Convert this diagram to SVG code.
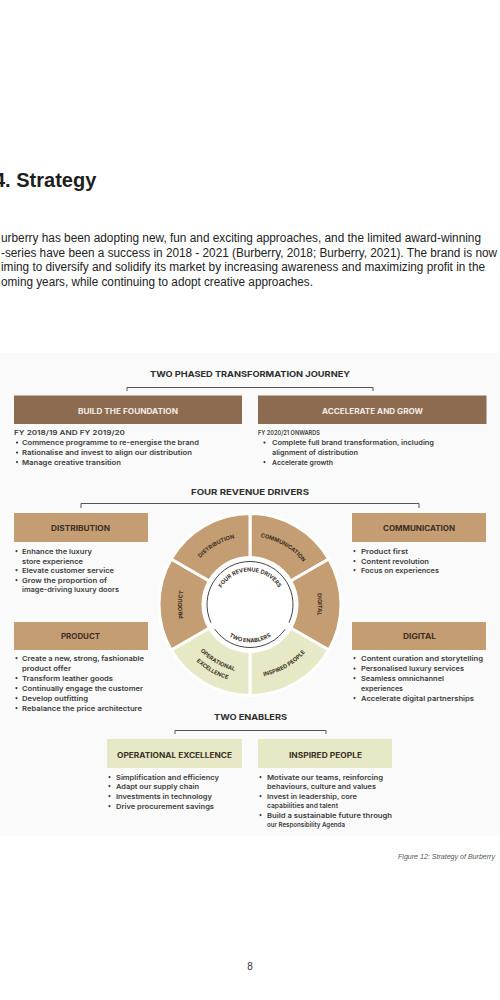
<svg xmlns="http://www.w3.org/2000/svg" width="500" height="1000" viewBox="0 0 500 1000">
<style>
.h{font-family:"Liberation Sans",Arial,sans-serif;font-weight:bold;font-size:20px;fill:#1e1e1e}
.p{font-family:"Liberation Sans",Arial,sans-serif;font-size:12px;fill:#222}
.t{font-family:Inter,"DejaVu Sans",sans-serif;font-weight:700;font-size:8px;fill:#2e2e2e;text-anchor:middle}
.bl{font-family:Inter,"DejaVu Sans",sans-serif;font-weight:700;font-size:7px;fill:#f4ede6;text-anchor:middle}
.bd{font-family:Inter,"DejaVu Sans",sans-serif;font-weight:700;font-size:7px;fill:#3a2e24;text-anchor:middle}
.b{font-family:Inter,"DejaVu Sans",sans-serif;font-weight:600;font-size:6.8px;fill:#3c3c3c}
.w{font-family:Inter,"DejaVu Sans",sans-serif;font-weight:700;font-size:5.6px;fill:#3a2e24;text-anchor:middle}
.cap{font-family:"Liberation Sans",Arial,sans-serif;font-style:italic;font-size:7.5px;fill:#555}
.dark{fill:#8c6b50}
.tan{fill:#c49d72}
.grn{fill:#e7e9c6}
.seg{stroke:#fff;stroke-width:3}
.br{fill:none;stroke:#555;stroke-width:1}
.dot{fill:#3c3c3c}
</style>
<defs>
<path id="topArc" d="M 182 604.5 A 68 68 0 0 1 318 604.5"/>
<path id="leftArc" d="M 216 663.39 A 68 68 0 0 1 216 545.61"/>
<path id="rightArc" d="M 284 545.61 A 68 68 0 0 1 284 663.39"/>
<path id="botArcA" d="M 182 604.5 A 68 68 0 0 0 318 604.5"/>
<path id="botArcB" d="M 172 604.5 A 78 78 0 0 0 328 604.5"/>
<path id="botArcC" d="M 177 604.5 A 73 73 0 0 0 323 604.5"/>
<path id="innerTop" d="M 217 604.5 A 33 33 0 0 1 283 604.5"/>
<path id="innerBot" d="M 212 604.5 A 38 38 0 0 0 288 604.5"/>
</defs>
<rect x="0" y="0" width="500" height="1000" fill="#fff"/>
<rect x="0" y="353" width="500" height="483" fill="#fafafa"/>

<g id="page-text">
<text class="h" x="-6" y="187">4. Strategy</text>
<text class="p" x="1" y="242" textLength="480" lengthAdjust="spacingAndGlyphs">urberry has been adopting new, fun and exciting approaches, and the limited award-winning</text>
<text class="p" x="1" y="256.5" textLength="496" lengthAdjust="spacingAndGlyphs">-series have been a success in 2018 - 2021 (Burberry, 2018; Burberry, 2021). The brand is now</text>
<text class="p" x="1" y="271" textLength="484" lengthAdjust="spacingAndGlyphs">iming to diversify and solidify its market by increasing awareness and maximizing profit in the</text>
<text class="p" x="1" y="285.5" textLength="312" lengthAdjust="spacingAndGlyphs">oming years, while continuing to adopt creative approaches.</text>
<text class="cap" x="398" y="858.5" textLength="97" lengthAdjust="spacingAndGlyphs">Figure 12: Strategy of Burberry</text>
<text x="250" y="970" font-family="Liberation Sans, Arial, sans-serif" font-size="10" fill="#333" text-anchor="middle">8</text>
</g>

<g id="connectors">
<path class="br" d="M 127 391 V 387.5 H 373 V 391"/>
<path class="br" d="M 81 508 V 503.5 H 419 V 508"/>
<path class="br" d="M 175 734 V 730.5 H 326 V 734"/>
</g>

<g id="titles">
<text class="t" x="250" y="376.5" textLength="200" lengthAdjust="spacingAndGlyphs">TWO PHASED TRANSFORMATION JOURNEY</text>
<text class="t" x="250" y="494.5" textLength="118" lengthAdjust="spacingAndGlyphs">FOUR REVENUE DRIVERS</text>
<text class="t" x="250.5" y="720" textLength="73" lengthAdjust="spacingAndGlyphs">TWO ENABLERS</text>
</g>

<g id="build-foundation">
<rect class="dark" x="14" y="395.5" width="228" height="28.5"/>
<text class="bl" x="128" y="413.5" textLength="100" lengthAdjust="spacingAndGlyphs">BUILD THE FOUNDATION</text>
<text class="b" x="14" y="435" textLength="111" lengthAdjust="spacingAndGlyphs">FY 2018/19 AND FY 2019/20</text>
<circle class="dot" cx="17" cy="442.6" r="1.1"/>
<circle class="dot" cx="17" cy="452.6" r="1.1"/>
<circle class="dot" cx="17" cy="462.1" r="1.1"/>
<text class="b" x="22" y="445" textLength="177" lengthAdjust="spacingAndGlyphs">Commence programme to re-energise the brand</text>
<text class="b" x="22" y="455" textLength="170" lengthAdjust="spacingAndGlyphs">Rationalise and invest to align our distribution</text>
<text class="b" x="22" y="464.5" textLength="99" lengthAdjust="spacingAndGlyphs">Manage creative transition</text>
</g>

<g id="accelerate-grow">
<rect class="dark" x="258" y="395.5" width="228.5" height="28.5"/>
<text class="bl" x="372.5" y="413.5" textLength="101" lengthAdjust="spacingAndGlyphs">ACCELERATE AND GROW</text>
<text class="b" x="258" y="435" textLength="62" lengthAdjust="spacingAndGlyphs">FY 2020/21 ONWARDS</text>
<circle class="dot" cx="264.5" cy="442.6" r="1.1"/>
<circle class="dot" cx="264.5" cy="462.1" r="1.1"/>
<text class="b" x="272" y="445" textLength="162" lengthAdjust="spacingAndGlyphs">Complete full brand transformation, including</text>
<text class="b" x="272" y="455" textLength="86" lengthAdjust="spacingAndGlyphs">alignment of distribution</text>
<text class="b" x="272" y="464.5" textLength="61" lengthAdjust="spacingAndGlyphs">Accelerate growth</text>
</g>

<g id="distribution">
<rect class="tan" x="14" y="513" width="134" height="29"/>
<text class="bd" x="80.5" y="530.5" textLength="59" lengthAdjust="spacingAndGlyphs">DISTRIBUTION</text>
<circle class="dot" cx="16.5" cy="551.1" r="1.1"/>
<circle class="dot" cx="16.5" cy="570.1" r="1.1"/>
<circle class="dot" cx="16.5" cy="580.1" r="1.1"/>
<text class="b" x="22" y="553.5" textLength="70" lengthAdjust="spacingAndGlyphs">Enhance the luxury</text>
<text class="b" x="22" y="563.5" textLength="61" lengthAdjust="spacingAndGlyphs">store experience</text>
<text class="b" x="22" y="572.5" textLength="92" lengthAdjust="spacingAndGlyphs">Elevate customer service</text>
<text class="b" x="22" y="582.5" textLength="85" lengthAdjust="spacingAndGlyphs">Grow the proportion of</text>
<text class="b" x="22" y="591.5" textLength="97" lengthAdjust="spacingAndGlyphs">image-driving luxury doors</text>
</g>

<g id="communication">
<rect class="tan" x="352" y="513" width="134" height="29"/>
<text class="bd" x="419" y="530.5" textLength="72" lengthAdjust="spacingAndGlyphs">COMMUNICATION</text>
<circle class="dot" cx="354.5" cy="551.1" r="1.1"/>
<circle class="dot" cx="354.5" cy="561.1" r="1.1"/>
<circle class="dot" cx="354.5" cy="570.1" r="1.1"/>
<text class="b" x="361" y="553.5" textLength="47" lengthAdjust="spacingAndGlyphs">Product first</text>
<text class="b" x="361" y="563.5" textLength="68" lengthAdjust="spacingAndGlyphs">Content revolution</text>
<text class="b" x="361" y="572.5" textLength="78" lengthAdjust="spacingAndGlyphs">Focus on experiences</text>
</g>

<g id="product">
<rect class="tan" x="14" y="622" width="134" height="28"/>
<text class="bd" x="80.5" y="638.5" textLength="39" lengthAdjust="spacingAndGlyphs">PRODUCT</text>
<circle class="dot" cx="16.5" cy="658.1" r="1.1"/>
<circle class="dot" cx="16.5" cy="678.1" r="1.1"/>
<circle class="dot" cx="16.5" cy="688.1" r="1.1"/>
<circle class="dot" cx="16.5" cy="698.1" r="1.1"/>
<circle class="dot" cx="16.5" cy="708.1" r="1.1"/>
<text class="b" x="22" y="660.5" textLength="122" lengthAdjust="spacingAndGlyphs">Create a new, strong, fashionable</text>
<text class="b" x="22" y="670.5" textLength="49" lengthAdjust="spacingAndGlyphs">product offer</text>
<text class="b" x="22" y="680.5" textLength="91" lengthAdjust="spacingAndGlyphs">Transform leather goods</text>
<text class="b" x="22" y="690.5" textLength="121" lengthAdjust="spacingAndGlyphs">Continually engage the customer</text>
<text class="b" x="22" y="700.5" textLength="66" lengthAdjust="spacingAndGlyphs">Develop outfitting</text>
<text class="b" x="22" y="710.5" textLength="120" lengthAdjust="spacingAndGlyphs">Rebalance the price architecture</text>
</g>

<g id="digital">
<rect class="tan" x="352" y="622" width="134" height="28"/>
<text class="bd" x="419.5" y="638.5" textLength="33" lengthAdjust="spacingAndGlyphs">DIGITAL</text>
<circle class="dot" cx="354.5" cy="658.1" r="1.1"/>
<circle class="dot" cx="354.5" cy="668.6" r="1.1"/>
<circle class="dot" cx="354.5" cy="678.1" r="1.1"/>
<circle class="dot" cx="354.5" cy="698.1" r="1.1"/>
<text class="b" x="361" y="660.5" textLength="122" lengthAdjust="spacingAndGlyphs">Content curation and storytelling</text>
<text class="b" x="361" y="671" textLength="103" lengthAdjust="spacingAndGlyphs">Personalised luxury services</text>
<text class="b" x="361" y="680.5" textLength="83" lengthAdjust="spacingAndGlyphs">Seamless omnichannel</text>
<text class="b" x="361" y="690.5" textLength="42" lengthAdjust="spacingAndGlyphs">experiences</text>
<text class="b" x="361" y="700.5" textLength="113" lengthAdjust="spacingAndGlyphs">Accelerate digital partnerships</text>
</g>

<g id="operational-excellence">
<rect class="grn" x="107" y="739" width="135" height="29"/>
<text class="bd" x="174.5" y="757.5" textLength="115" lengthAdjust="spacingAndGlyphs">OPERATIONAL EXCELLENCE</text>
<circle class="dot" cx="109.5" cy="777.1" r="1.1"/>
<circle class="dot" cx="109.5" cy="786.1" r="1.1"/>
<circle class="dot" cx="109.5" cy="796.1" r="1.1"/>
<circle class="dot" cx="109.5" cy="806.1" r="1.1"/>
<text class="b" x="116" y="779.5" textLength="103" lengthAdjust="spacingAndGlyphs">Simplification and efficiency</text>
<text class="b" x="116" y="788.5" textLength="83" lengthAdjust="spacingAndGlyphs">Adapt our supply chain</text>
<text class="b" x="116" y="798.5" textLength="96" lengthAdjust="spacingAndGlyphs">Investments in technology</text>
<text class="b" x="116" y="808.5" textLength="98" lengthAdjust="spacingAndGlyphs">Drive procurement savings</text>
</g>

<g id="inspired-people">
<rect class="grn" x="258" y="739" width="134" height="29"/>
<text class="bd" x="325.5" y="757.5" textLength="73" lengthAdjust="spacingAndGlyphs">INSPIRED PEOPLE</text>
<circle class="dot" cx="260.5" cy="777.1" r="1.1"/>
<circle class="dot" cx="260.5" cy="796.1" r="1.1"/>
<circle class="dot" cx="260.5" cy="815.1" r="1.1"/>
<text class="b" x="267" y="779.5" textLength="116" lengthAdjust="spacingAndGlyphs">Motivate our teams, reinforcing</text>
<text class="b" x="267" y="788.5" textLength="109" lengthAdjust="spacingAndGlyphs">behaviours, culture and values</text>
<text class="b" x="267" y="798.5" textLength="90" lengthAdjust="spacingAndGlyphs">Invest in leadership, core</text>
<text class="b" x="267" y="808" textLength="71" lengthAdjust="spacingAndGlyphs">capabilities and talent</text>
<text class="b" x="267" y="817.5" textLength="125" lengthAdjust="spacingAndGlyphs">Build a sustainable future through</text>
<text class="b" x="267" y="826.5" textLength="78" lengthAdjust="spacingAndGlyphs">our Responsibility Agenda</text>
</g>

<g id="wheel">
<circle cx="250" cy="604.5" r="47" fill="#fff"/>
<path id="seg-communication" class="tan seg" d="M 250 513.5 A 91 91 0 0 1 328.81 559 L 290.70 581 A 47 47 0 0 0 250 557.5 Z"/>
<path id="seg-digital" class="tan seg" d="M 328.81 559 A 91 91 0 0 1 328.81 650 L 290.70 628 A 47 47 0 0 0 290.70 581 Z"/>
<path id="seg-inspired" class="grn seg" d="M 328.81 650 A 91 91 0 0 1 250 695.5 L 250 651.5 A 47 47 0 0 0 290.70 628 Z"/>
<path id="seg-operational" class="grn seg" d="M 250 695.5 A 91 91 0 0 1 171.19 650 L 209.30 628 A 47 47 0 0 0 250 651.5 Z"/>
<path id="seg-product" class="tan seg" d="M 171.19 650 A 91 91 0 0 1 171.19 559 L 209.30 581 A 47 47 0 0 0 209.30 628 Z"/>
<path id="seg-distribution" class="tan seg" d="M 171.19 559 A 91 91 0 0 1 250 513.5 L 250 557.5 A 47 47 0 0 0 209.30 581 Z"/>
<path d="M 211.03 622.67 A 43 43 0 1 1 288.97 622.67" fill="none" stroke="#444" stroke-width="1"/>
<path d="M 285.22 629.16 A 43 43 0 0 1 214.78 629.16" fill="none" stroke="#444" stroke-width="1"/>
<text class="w"><textPath href="#topArc" startOffset="33.3%">DISTRIBUTION</textPath></text>
<text class="w"><textPath href="#topArc" startOffset="66.7%">COMMUNICATION</textPath></text>
<text class="w"><textPath href="#leftArc" startOffset="50%">PRODUCT</textPath></text>
<text class="w"><textPath href="#rightArc" startOffset="50%">DIGITAL</textPath></text>
<text class="w"><textPath href="#botArcA" startOffset="33.3%">OPERATIONAL</textPath></text>
<text class="w"><textPath href="#botArcB" startOffset="33.3%">EXCELLENCE</textPath></text>
<text class="w"><textPath href="#botArcC" startOffset="66.7%">INSPIRED PEOPLE</textPath></text>
<text class="w"><textPath href="#innerTop" startOffset="50%">FOUR REVENUE DRIVERS</textPath></text>
<text class="w"><textPath href="#innerBot" startOffset="50%">TWO ENABLERS</textPath></text>
</g>
</svg>
